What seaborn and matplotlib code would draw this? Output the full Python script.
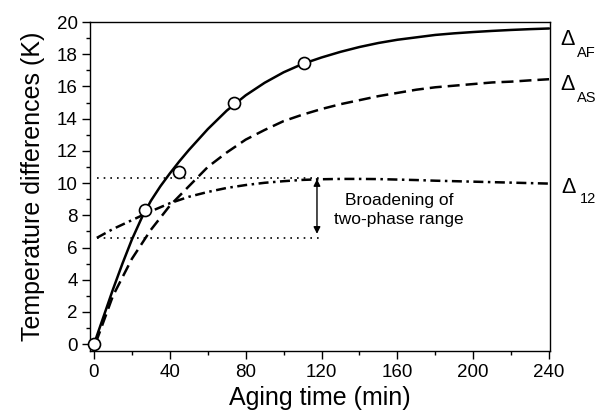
import matplotlib
matplotlib.use("Agg")
import matplotlib.pyplot as plt
import seaborn as sns
import pandas as pd
from matplotlib.ticker import MultipleLocator

# ---- data ----
t_af = [0, 5, 10, 15, 20, 25, 30, 35, 40, 45, 50, 60, 70, 80, 90, 100, 110, 120,
        130, 140, 150, 160, 170, 180, 190, 200, 210, 220, 230, 240]
d_af = [0, 1.7, 3.4, 5.0, 6.5, 7.8, 8.9, 9.8, 10.6, 11.35, 12.05, 13.35, 14.5, 15.45,
        16.23, 16.88, 17.4, 17.8, 18.15, 18.45, 18.7, 18.9, 19.05, 19.2, 19.3,
        19.38, 19.45, 19.51, 19.56, 19.6]

t_as = [1, 10, 20, 30, 40, 50, 60, 70, 80, 90, 100, 110, 120, 130, 140, 150,
        160, 170, 180, 190, 200, 210, 220, 230, 240]
d_as = [0.1, 3.0, 5.3, 7.1, 8.6, 9.8, 11.0, 11.9, 12.7, 13.3, 13.85, 14.25,
        14.6, 14.9, 15.15, 15.4, 15.6, 15.8, 15.95, 16.05, 16.15, 16.25, 16.3,
        16.38, 16.45]

t_12 = [1.5, 10, 20, 30, 40, 50, 60, 70, 80, 90, 100, 110, 120, 130, 140, 150,
        160, 170, 180, 190, 200, 210, 220, 230, 240]
d_12 = [6.6, 7.15, 7.7, 8.25, 8.75, 9.15, 9.45, 9.7, 9.88, 10.02, 10.12, 10.2,
        10.24, 10.26, 10.26, 10.25, 10.22, 10.19, 10.15, 10.12, 10.09, 10.06,
        10.03, 10.0, 9.97]

t_pts = [0, 27, 45, 74, 111]
d_pts = [0, 8.3, 10.7, 15.0, 17.45]

ref_upper = 10.3
ref_lower = 6.57
ref_x = [1.5, 120]
arrow_x = 117.6
arrow_top = 10.25
arrow_bottom = 6.85

x_ticks = [0, 40, 80, 120, 160, 200, 240]
y_ticks = [0, 2, 4, 6, 8, 10, 12, 14, 16, 18, 20]

sns.set_style("ticks", rc={
    "axes.edgecolor": "black", "xtick.color": "black", "ytick.color": "black",
    "text.color": "black", "axes.labelcolor": "black",
})
plt.rcParams["font.family"] = ["Liberation Sans", "DejaVu Sans"]

fig = plt.figure(figsize=(6, 4.16), dpi=100)
ax = fig.add_axes([0.15, 0.156, 0.7667, 0.791])

df_af = pd.DataFrame({"t": t_af, "d": d_af})
df_as = pd.DataFrame({"t": t_as, "d": d_as})
df_12 = pd.DataFrame({"t": t_12, "d": d_12})
df_pts = pd.DataFrame({"t": t_pts, "d": d_pts})

sns.lineplot(data=df_af, x="t", y="d", ax=ax, color="black", lw=1.8)
sns.lineplot(data=df_as, x="t", y="d", ax=ax, color="black", lw=1.8)
ax.lines[-1].set_dashes([4.8, 2.4])
sns.lineplot(data=df_12, x="t", y="d", ax=ax, color="black", lw=1.8)
ax.lines[-1].set_dashes([4.0, 1.8, 1.0, 1.8])

# reference dotted lines
for yv in (ref_upper, ref_lower):
    sns.lineplot(x=ref_x, y=[yv, yv], ax=ax, color="black", lw=1.2)
    ax.lines[-1].set_dashes([1, 3])

sns.scatterplot(data=df_pts, x="t", y="d", ax=ax, s=75, facecolor="white",
                edgecolor="black", linewidth=1.2, zorder=5, clip_on=False)

ax.annotate("", xy=(arrow_x, arrow_top), xytext=(arrow_x, arrow_bottom),
            arrowprops=dict(arrowstyle="<|-|>", color="black", lw=1.0,
                            mutation_scale=10, shrinkA=0, shrinkB=0))
ax.text(161, 8.35, "Broadening of\ntwo-phase range", ha="center", va="center",
        fontsize=12.5, linespacing=1.35)

# curve labels
ax.text(246.0, 18.57, "\u0394", fontsize=15.5, ha="left", va="baseline", clip_on=False)
ax.text(254.6, 17.85, "AF", fontsize=10.5, ha="left", va="baseline", clip_on=False)
ax.text(246.0, 15.78, "\u0394", fontsize=15.5, ha="left", va="baseline", clip_on=False)
ax.text(254.6, 15.05, "AS", fontsize=10.5, ha="left", va="baseline", clip_on=False)
ax.text(246.7, 9.36, "\u0394", fontsize=15.5, ha="left", va="baseline", clip_on=False)
ax.text(256.3, 8.74, "12", fontsize=10.5, ha="left", va="baseline", clip_on=False)

ax.set_xlim(-2.1, 240.5)
ax.set_ylim(-0.43, 20)
ax.set_xticks(x_ticks)
ax.set_yticks(y_ticks)
ax.xaxis.set_minor_locator(MultipleLocator(20))
ax.yaxis.set_minor_locator(MultipleLocator(1))
ax.tick_params(which="major", direction="out", length=6, width=1,
               labelsize=13.5, pad=3)
ax.tick_params(which="minor", direction="out", length=3, width=1)
for sp in ax.spines.values():
    sp.set_visible(True)
    sp.set_linewidth(1.0)
    sp.set_color("black")

ax.set_xlabel("Aging time (min)", fontsize=18, labelpad=4)
ax.set_ylabel("Temperature differences (K)", fontsize=18, labelpad=8)

fig.savefig("out.png", dpi=100)
